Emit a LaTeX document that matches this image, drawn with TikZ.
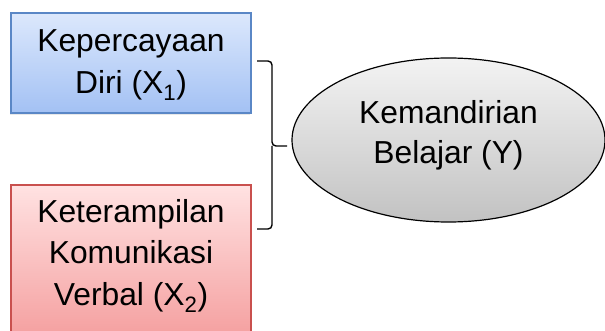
\documentclass[tikz,border=0pt]{standalone}
\usepackage{fontspec}
\setmainfont{Liberation Sans}
\usetikzlibrary{shapes.geometric,shadows}
\definecolor{bluetop}{HTML}{DCE8FC}
\definecolor{bluebot}{HTML}{A3C1F4}
\definecolor{blueline}{HTML}{5A87C6}
\definecolor{redtop}{HTML}{FFE2E2}
\definecolor{redbot}{HTML}{F49C9C}
\definecolor{redline}{HTML}{C9504E}
\definecolor{elltop}{HTML}{F3F3F3}
\definecolor{ellbot}{HTML}{C2C2C2}
\tikzset{
  lbl/.style={align=center, font=\fontsize{31.8}{41.5}\selectfont, inner sep=0pt},
  boxshadow/.style={drop shadow={opacity=0.18, shadow xshift=-1.5pt, shadow yshift=-2.5pt}},
  bluebox/.style={draw=blueline, line width=1.4pt, top color=bluetop, bottom color=bluebot, minimum width=240pt, minimum height=100pt, inner sep=0pt, boxshadow},
  redbox/.style={draw=redline, line width=1.4pt, top color=redtop, bottom color=redbot, minimum width=240pt, minimum height=160pt, inner sep=0pt, boxshadow},
  ell/.style={ellipse, draw=black, line width=1.2pt, top color=elltop, bottom color=ellbot, minimum width=313pt, minimum height=164pt, inner sep=0pt},
  brace/.style={draw=black, line width=1.4pt, rounded corners=4pt}
}
\begin{document}
\begin{tikzpicture}[x=1pt,y=-1pt]
\useasboundingbox (0,0) rectangle (605,331);
\node[bluebox] (x1) at (131,63) {};
\node[lbl] (x1t) at (131,65) {Kepercayaan\\Diri (X\textsubscript{1})};
\node[redbox] (x2) at (131,265) {};
\node[lbl] (x2t) at (131,255.5) {Keterampilan\\Komunikasi\\Verbal (X\textsubscript{2})};
\node[ell] (y) at (448.5,140) {};
\node[lbl, font=\fontsize{31.8}{40}\selectfont] (yt) at (448.5,135) {Kemandirian\\Belajar (Y)};
\coordinate (bt) at (257,61);
\coordinate (bb) at (257,229);
\coordinate (bm) at (272,146);
\coordinate (tip) at (287,146);
\draw[brace] (bt) -- (272,61) -- (bm) -- (tip);
\draw[brace] (bb) -- (272,229) -- (bm);
\end{tikzpicture}
\end{document}
